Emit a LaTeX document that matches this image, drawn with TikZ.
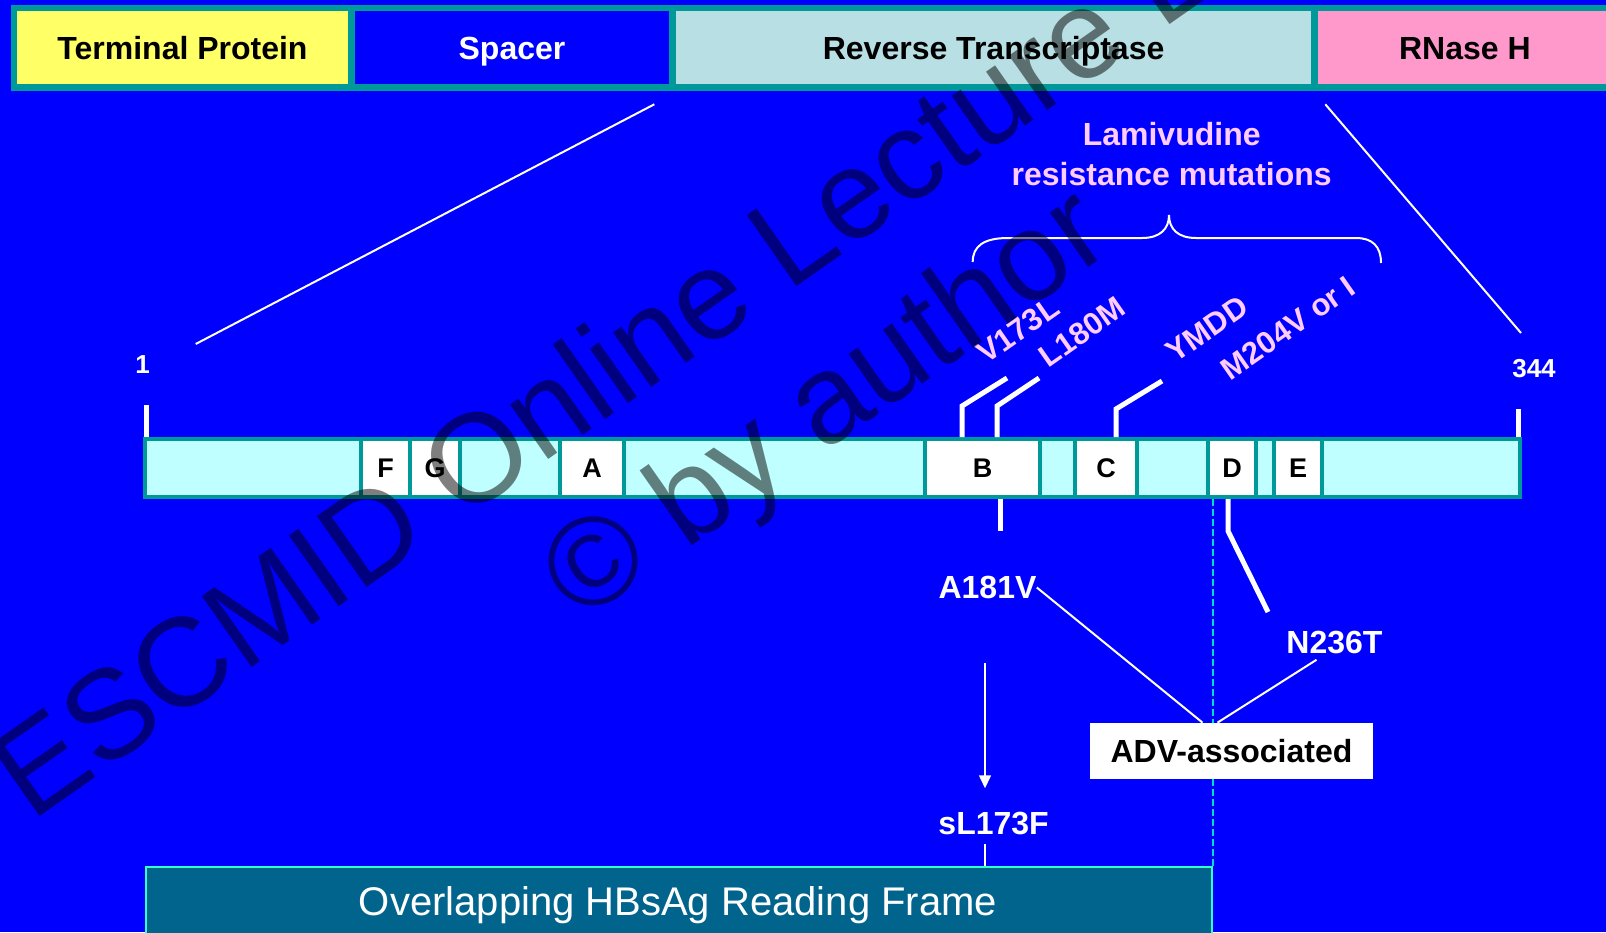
\documentclass[tikz,border=0pt]{standalone}
\usepackage{fontspec}
\setmainfont{Liberation Sans}
\usetikzlibrary{calc,arrows.meta,positioning}
\definecolor{bgc}{HTML}{0000FF}
\definecolor{tealc}{HTML}{009999}
\definecolor{tpc}{HTML}{FFFF66}
\definecolor{rtc}{HTML}{B8E0E4}
\definecolor{rnc}{HTML}{FF99CC}
\definecolor{barc}{HTML}{C0FFFF}
\definecolor{mutc}{HTML}{FFCCFF}
\definecolor{dashc}{HTML}{00DDCC}
\definecolor{hbsc}{HTML}{00648C}
\definecolor{hbsedge}{HTML}{33FFCC}
\tikzset{
  seg/.style={rectangle,draw=tealc,line width=3.25pt,inner sep=0pt,minimum height=39.75pt,text height=11.5pt,text depth=0pt,font=\bfseries\fontsize{16}{19}\selectfont},
  dom/.style={rectangle,draw=tealc,line width=2pt,fill=white,inner sep=0pt,minimum height=29pt,text height=9.5pt,text depth=0pt,font=\bfseries\fontsize{13.5}{16}\selectfont},
  lbl/.style={text=white,inner sep=0pt,anchor=base,font=\bfseries\fontsize{16}{19}\selectfont},
  mut/.style={text=mutc,inner sep=0pt,rotate=35,font=\bfseries\fontsize{15.5}{18}\selectfont},
  tick/.style={white,line width=2.5pt},
  ln/.style={white,line width=1pt},
  ar/.style={-{Triangle[length=6.5pt,width=6pt]},white,line width=0.75pt},
  wm/.style={text=black,text opacity=0.5,inner sep=0pt,anchor=base,rotate=35,font=\fontsize{63}{75}\selectfont}
}
\begin{document}
\begin{tikzpicture}[x=0.5pt,y=-0.5pt]
\useasboundingbox (0,0) rectangle (1606,932);
\fill[bgc] (0,0) rectangle (1606,932);
\node[seg,fill=tpc,minimum width=168.75pt] (tp) at (182.5,47.5) {Terminal Protein};
\node[seg,fill=bgc,text=white,minimum width=160.25pt] (sp) at (512,47.5) {Spacer};
\node[seg,fill=rtc,minimum width=321.25pt] (rt) at (993.6,47.5) {Reverse Transcriptase};
\node[seg,fill=rnc,minimum width=150.4pt] (rh) at (1464.85,47.5) {RNase H};
\node[rectangle,draw=tealc,line width=2pt,fill=barc,minimum width=687.25pt,minimum height=29pt,inner sep=0pt] (gene) at (832.25,468) {};
\foreach \nm/\xa/\xb in {F/363/408,G/412/458,A/562/622,B/927/1038,C/1077/1135,D/1210/1254,E/1276/1320}
  \node[dom,minimum width={(\xb-\xa+4)*0.5pt}] (d\nm) at ({(\xa+\xb)/2},468) {\nm};
\draw[ln] ([xshift=-7.4pt,yshift=-6.9pt]rt.south west) -- ([xshift=26.35pt,yshift=46.5pt]gene.north west);
\draw[ln] ([xshift=3.6pt,yshift=-6.9pt]rt.south east) -- ([xshift=-0.25pt,yshift=52pt]gene.north east);
\draw[tick] (146,405) -- (146,437);
\draw[tick] (1518.5,409) -- (1518.5,437);
\node[lbl,font=\bfseries\fontsize{13}{15}\selectfont] (pos1) at (142.5,373) {1};
\node[lbl,font=\bfseries\fontsize{13}{15}\selectfont] (pos344) at (1534,377) {344};
\foreach \xa/\yt/\xb/\yb in {962/406/1007/378,997/406/1039/378,1116/409/1162/381}
  \draw[tick] (\xa,437) -- (\xa,\yt) -- (\xb,\yb);
\node[mut] (v173l) at (1018,330) {V173L};
\node[mut] (l180m) at (1082,332) {L180M};
\node[mut] (ymdd) at (1207,329) {YMDD};
\node[mut] (m204v) at (1288,328) {M204V or I};
\draw[white,line width=1pt] (972.7,262) .. controls (972.7,246) and (984,238) .. (1008,238) -- (1142,238) .. controls (1160,238) and (1169,229) .. (1169,215) .. controls (1169,229) and (1178,238) .. (1196,238) -- (1356,238) .. controls (1372,238) and (1381,246) .. (1381,263);
\node[lbl,text=mutc,anchor=center,align=center,font=\bfseries\fontsize{16}{20}\selectfont] (lam) at (1171.7,154.3) {Lamivudine\\resistance mutations};
\draw[tick] (1000,499) -- (1000,531);
\draw[tick] (1228,499) -- (1228,531) -- (1268,612);
\node[lbl] (a181v) at (987.5,598.5) {A181V};
\node[lbl] (n236t) at (1334.5,653) {N236T};
\node[lbl] (sl173f) at (993.6,834) {sL173F};
\node[rectangle,draw=hbsedge,line width=1pt,fill=hbsc,minimum width=533pt,minimum height=50pt,anchor=north west,inner sep=0pt] (hbs) at (145,866) {};
\node[anchor=base,inner sep=0pt,text=white,font=\fontsize{20}{24}\selectfont] (hbstxt) at (678,915) {Overlapping HBsAg Reading Frame};
\draw[dashc,line width=1pt,dash pattern=on 3.3pt off 1.7pt] (hbs.north east) -- (hbs.north east |- gene.south);
\node[rectangle,fill=white,minimum width=141.5pt,minimum height=28pt,inner sep=0pt,text height=11.5pt,text depth=0pt,font=\bfseries\fontsize{16}{19}\selectfont] (adv) at (1231.5,751) {ADV-associated};
\draw[ln] (a181v.east) -- ([xshift=-14.5pt]adv.north);
\draw[ln] ([xshift=-9pt,yshift=-3pt]n236t.south) -- ([xshift=-7pt]adv.north);
\draw[ar] ([xshift=-1.25pt,yshift=-32pt]a181v.south) -- ([xshift=-4.3pt,yshift=11.5pt]sl173f.north);
\draw[ln,line width=0.75pt] ([xshift=-4.3pt,yshift=-4.5pt]sl173f.south) -- ($(sl173f.south |- hbs.north)+(-4.3pt,0)$);
\node[wm] (wm1) at (754,316) {ESCMID Online Lecture Library};
\node[wm] (wm2) at (848,436) {© by author};
\end{tikzpicture}
\end{document}
